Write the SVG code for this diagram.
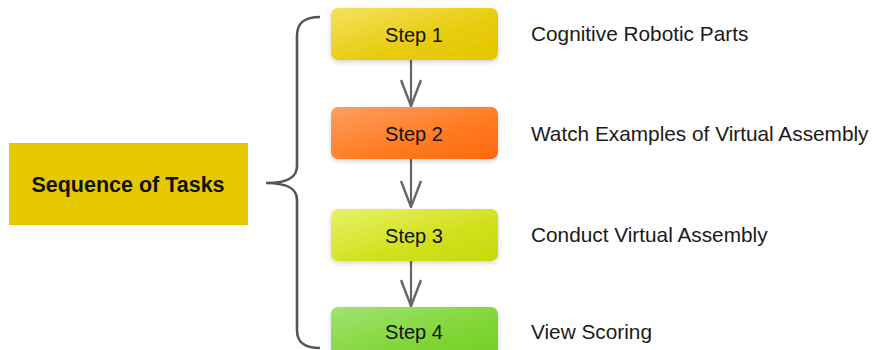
<svg xmlns="http://www.w3.org/2000/svg" width="875" height="350" viewBox="0 0 875 350">
  <defs>
    <linearGradient id="g1" x1="0" y1="0" x2="1" y2="1">
      <stop offset="0" stop-color="#F4E260"/>
      <stop offset="0.6" stop-color="#E8CB0C"/>
      <stop offset="1" stop-color="#E5C600"/>
    </linearGradient>
    <linearGradient id="g2" x1="0" y1="0" x2="1" y2="1">
      <stop offset="0" stop-color="#FF9F62"/>
      <stop offset="0.6" stop-color="#FF7A20"/>
      <stop offset="1" stop-color="#FC6A0C"/>
    </linearGradient>
    <linearGradient id="g3" x1="0" y1="0" x2="1" y2="1">
      <stop offset="0" stop-color="#E8F266"/>
      <stop offset="0.6" stop-color="#D2E01C"/>
      <stop offset="1" stop-color="#C8D80C"/>
    </linearGradient>
    <linearGradient id="g4" x1="0" y1="0" x2="1" y2="1">
      <stop offset="0" stop-color="#A2E272"/>
      <stop offset="0.6" stop-color="#80D636"/>
      <stop offset="1" stop-color="#70D022"/>
    </linearGradient>
    <filter id="glow" x="-10%" y="-20%" width="120%" height="150%">
      <feGaussianBlur in="SourceAlpha" stdDeviation="2.5"/>
      <feOffset dy="2"/>
      <feComponentTransfer><feFuncA type="linear" slope="0.18"/></feComponentTransfer>
      <feMerge><feMergeNode/><feMergeNode in="SourceGraphic"/></feMerge>
    </filter>
    <!-- open chevron head, drawn pointing along +x -->
    <marker id="vee" viewBox="0 0 28 22" refX="27" refY="11" markerWidth="28" markerHeight="22" markerUnits="userSpaceOnUse" orient="auto">
      <path d="M1,1 L27,11 L1,21" fill="none" stroke="#666666" stroke-width="2.4"/>
    </marker>
  </defs>
  <style>
    .step { font-family: "Liberation Sans", Arial, sans-serif; font-size: 20px; fill: #111; text-anchor: middle; }
    .label { font-family: "Liberation Sans", Arial, sans-serif; font-size: 20.8px; fill: #1a1a1a; }
    .title { font-family: "Liberation Sans", Arial, sans-serif; font-size: 21.5px; font-weight: bold; fill: #111; text-anchor: middle; }
    .conn { fill: none; stroke: #666666; stroke-width: 2.2; }
    .brace { fill: none; stroke: #555555; stroke-width: 2.6; }
  </style>

  <rect width="875" height="350" fill="#FFFFFF"/>

  <!-- left summary box -->
  <g id="sequence">
    <rect x="9" y="143" width="239" height="82" fill="#E6C800"/>
    <text class="title" x="128" y="192">Sequence of Tasks</text>
  </g>

  <!-- curly brace and step arrows -->
  <g id="connectors">
    <path class="brace" d="M320,17 C305,17 297,22 297,36 L297,166 C297,176 290,183 266,183 C290,183 297,190 297,200 L297,330 C297,343 305,348 320,348"/>
    <line class="conn" x1="411" y1="60" x2="411" y2="106" marker-end="url(#vee)"/>
    <line class="conn" x1="411" y1="159" x2="411" y2="207" marker-end="url(#vee)"/>
    <line class="conn" x1="411" y1="261" x2="411" y2="306" marker-end="url(#vee)"/>
  </g>

  <g id="step1">
    <rect x="331" y="8" width="167" height="52" rx="7" fill="url(#g1)" filter="url(#glow)"/>
    <text class="step" x="414" y="42">Step 1</text>
  </g>
  <g id="step2">
    <rect x="331" y="107" width="167" height="52" rx="7" fill="url(#g2)" filter="url(#glow)"/>
    <text class="step" x="414" y="141">Step 2</text>
  </g>
  <g id="step3">
    <rect x="331" y="209" width="167" height="52" rx="7" fill="url(#g3)" filter="url(#glow)"/>
    <text class="step" x="414" y="243">Step 3</text>
  </g>
  <g id="step4">
    <rect x="331" y="307" width="167" height="52" rx="7" fill="url(#g4)" filter="url(#glow)"/>
    <text class="step" x="414" y="339">Step 4</text>
  </g>

  <g id="labels">
    <text class="label" x="531" y="41">Cognitive Robotic Parts</text>
    <text class="label" x="531" y="141">Watch Examples of Virtual Assembly</text>
    <text class="label" x="531" y="242">Conduct Virtual Assembly</text>
    <text class="label" x="531" y="339">View Scoring</text>
  </g>
</svg>
